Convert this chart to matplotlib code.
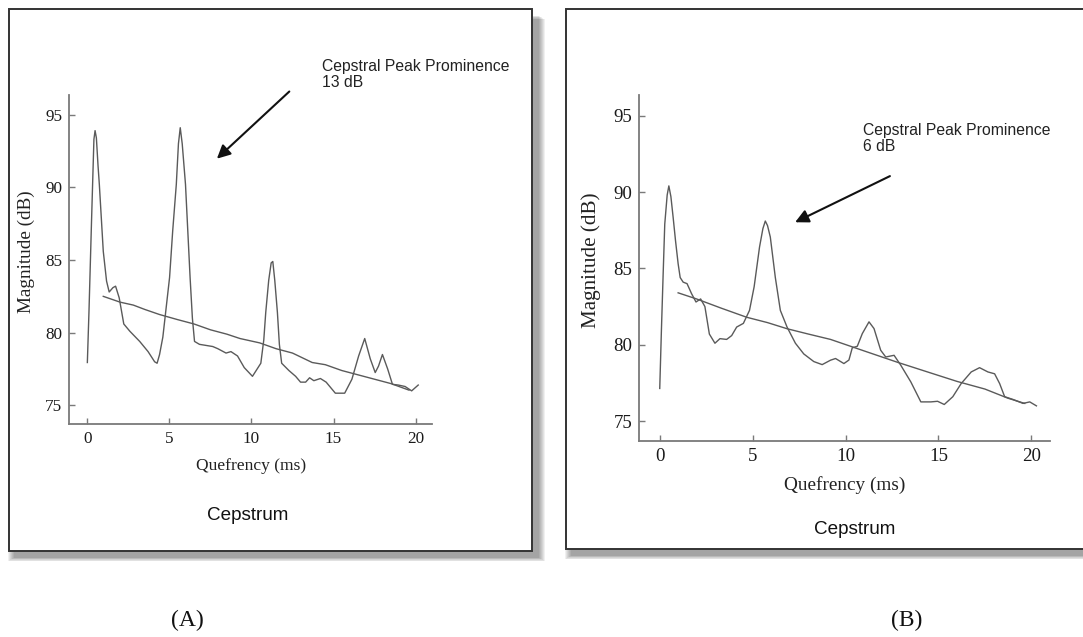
import numpy as np
import matplotlib
matplotlib.use("Agg")
from matplotlib import pyplot as plt
from matplotlib.patches import Rectangle

# panel A : strong voice (CPP 13 dB)
qa = [0, 0.1, 0.25, 0.4, 0.47, 0.55, 0.65, 0.73, 0.97, 1.17, 1.33, 1.56, 1.72, 1.94, 2.22, 2.59,
      3.19, 3.7, 4.1, 4.25, 4.4, 4.6, 5.01, 5.2, 5.42, 5.55, 5.66, 5.78, 5.98, 6.12, 6.26, 6.4, 6.53,
      6.83, 7.64, 7.95, 8.45, 8.75, 9.15, 9.56, 10.06, 10.57, 10.75, 10.87, 11.05, 11.2, 11.3, 11.42,
      11.58, 11.7, 11.84, 12.28, 12.69, 12.99, 13.3, 13.54, 13.8, 14.2, 14.55, 15.11, 15.68, 16.12,
      16.53, 16.9, 17.24, 17.54, 17.74, 17.98, 18.3, 18.59, 18.95, 19.36, 19.76, 20.16]
ma = [77.95, 81.5, 87.5, 93.3, 93.9, 93.4, 91.5, 90.2, 85.6, 83.55, 82.8, 83.1, 83.2, 82.4, 80.6, 80.1,
      79.4, 78.7, 78.0, 77.9, 78.5, 79.7, 83.8, 87.0, 90.2, 93.0, 94.1, 93.0, 90.2, 87.0, 83.8, 81.0, 79.4,
      79.2, 79.05, 78.9, 78.6, 78.7, 78.4, 77.6, 77.0, 77.9, 79.5, 81.4, 83.6, 84.8, 84.9, 83.6,
      81.4, 79.2, 77.9, 77.4, 77.0, 76.6, 76.6, 76.9, 76.7, 76.85, 76.6, 75.84, 75.84, 76.8,
      78.4, 79.6, 78.2, 77.26, 77.7, 78.5, 77.5, 76.45, 76.4, 76.3, 76.0, 76.4]
ta_x = [0.97, 2.0, 2.8, 3.5, 4.4, 5.5, 6.5, 7.5, 8.5, 9.3, 10.5, 11.5, 12.5, 13.7, 14.5, 15.5, 16.5, 17.5, 18.5, 19.6]
ta_y = [82.5, 82.1, 81.9, 81.6, 81.25, 80.9, 80.6, 80.2, 79.9, 79.6, 79.3, 78.9, 78.6, 77.95, 77.8, 77.4, 77.1, 76.8, 76.5, 76.05]

# panel B : weaker voice (CPP 6 dB)
qb = [0, 0.09, 0.18, 0.27, 0.4, 0.49, 0.6, 0.72, 0.85, 0.99, 1.1, 1.26, 1.47, 1.71, 1.95, 2.2, 2.43,
      2.67, 2.97, 3.24, 3.6, 3.87, 4.14, 4.5, 4.83, 5.08, 5.37, 5.55, 5.68, 5.8, 5.95, 6.22, 6.49, 6.85,
      7.3, 7.75, 8.29, 8.74, 9.19, 9.46, 9.91, 10.18, 10.36, 10.63, 10.9, 11.26, 11.53, 11.89, 12.16,
      12.61, 12.97, 13.51, 14.05, 14.59, 14.95, 15.31, 15.77, 16.22, 16.76, 17.21, 17.66, 18.02, 18.29,
      18.56, 19.01, 19.55, 19.91, 20.27]
mb = [77.14, 80.95, 84.5, 87.9, 89.8, 90.4, 89.7, 88.35, 86.8, 85.3, 84.4, 84.1, 84.0, 83.35, 82.8, 83.0, 82.5,
      80.7, 80.1, 80.4, 80.35, 80.6, 81.16, 81.4, 82.25, 83.8, 86.4, 87.6, 88.1, 87.8, 87.05, 84.4, 82.25, 81.16,
      80.1, 79.4, 78.9, 78.7, 78.99, 79.1, 78.77, 79.0, 79.8, 79.9, 80.73, 81.5, 81.06, 79.64, 79.2,
      79.31, 78.66, 77.57, 76.26, 76.26, 76.3, 76.09, 76.6, 77.46, 78.22, 78.5, 78.22, 78.1, 77.46,
      76.6, 76.42, 76.16, 76.26, 76.0]
tb_x = [0.99, 1.98, 3.3, 4.68, 5.8, 6.85, 8.0, 9.19, 10.99, 12.8, 14.59, 16.0, 17.5, 18.74, 19.64]
tb_y = [83.4, 83.0, 82.4, 81.8, 81.45, 81.05, 80.7, 80.35, 79.6, 78.85, 78.15, 77.6, 77.1, 76.5, 76.16]

xticks = [0, 5, 10, 15, 20]
yticks = [75, 80, 85, 90, 95]

W, H = 1083, 637
fig = plt.figure(figsize=(W / 100, H / 100), dpi=100)
fig.patch.set_facecolor('white')

serif = 'Liberation Serif'
sans = 'Liberation Sans'


def fx(px):
    return px / W


def fy(py):
    return 1 - py / H


# panel frames with a soft drop shadow
def frame(x0, y0, x1, y1):
    for k in range(7, 0, -1):
        fig.add_artist(Rectangle((fx(x0 + 6 - k), fy(y1 + 6 + k * 0.6)),
                                 fx(x1 - x0 + 2 * k), (y1 - y0) / H,
                                 transform=fig.transFigure, facecolor='black',
                                 edgecolor='none', alpha=0.06, zorder=0))
    fig.add_artist(Rectangle((fx(x0), fy(y1)), fx(x1 - x0), (y1 - y0) / H,
                             transform=fig.transFigure, facecolor='white',
                             edgecolor='#333333', lw=1.4, zorder=1))


frame(9.3, 9, 532.3, 551)
frame(565.7, 9, 1095, 549)


def panel(rect, q, m, tx, ty, fs, cpp, txt_xy, arrow_from, arrow_to, title_xy, letter_xy, letter):
    ax = fig.add_axes(rect, zorder=2)
    ax.patch.set_alpha(0)
    ax.plot(q, m, color='#5a5a5a', lw=1.0)
    ax.plot(tx, ty, color='#5a5a5a', lw=1.0)
    ax.set_xlim(-1.1, 21.0)
    ax.set_ylim(73.7, 96.35)
    ax.set_xticks(xticks)
    ax.set_yticks(yticks)
    for s in ['top', 'right']:
        ax.spines[s].set_visible(False)
    for s in ['left', 'bottom']:
        ax.spines[s].set_color('#7a7a7a')
        ax.spines[s].set_linewidth(1.3)
    ax.tick_params(direction='in', length=4, width=1, color='#7a7a7a', pad=5,
                   labelsize=fs * 1.03, labelcolor='#1a1a1a')
    for lab in ax.get_xticklabels() + ax.get_yticklabels():
        lab.set_fontfamily(serif)
    ax.set_xlabel('Quefrency (ms)', fontsize=fs * 1.05, family=serif, color='#222222', va='center')
    ax.xaxis.set_label_coords(0.5, -0.127)
    ax.set_ylabel('Magnitude (dB)', fontsize=fs * 1.15, family=serif, color='#222222', va='center')
    ax.yaxis.set_label_coords(-0.118, 0.523)
    ax.annotate('', xy=arrow_to, xytext=arrow_from, annotation_clip=False,
                arrowprops=dict(arrowstyle='-|>', color='#111111', lw=1.5, mutation_scale=20))
    fig.text(fx(txt_xy[0]), fy(txt_xy[1]), 'Cepstral Peak Prominence\n' + cpp,
             family=sans, fontsize=11.3, color='#222222', ha='left', va='top', linespacing=1.05)
    fig.text(fx(title_xy[0]), fy(title_xy[1]), 'Cepstrum', family=sans, fontsize=13.6,
             color='#111111', ha='center', va='center')
    fig.text(fx(letter_xy[0]), fy(letter_xy[1]), letter, family=serif, fontsize=17,
             color='#111111', ha='center', va='center')
    return ax


panel([fx(69.3), fy(424.3), fx(432 - 69.3), (424.3 - 95) / H], qa, ma, ta_x, ta_y, 12,
      '13 dB', (322, 59), (12.43, 96.72), (7.77, 91.84), (248, 516), (187, 620), '(A)')
panel([fx(639.3), fy(441), fx(1050 - 639.3), (441 - 95) / H], qb, mb, tb_x, tb_y, 13.2,
      '6 dB', (862.7, 123), (12.52, 91.12), (7.15, 87.94), (855, 530), (907, 620), '(B)')

fig.savefig('out.png', dpi=100, facecolor='white')
